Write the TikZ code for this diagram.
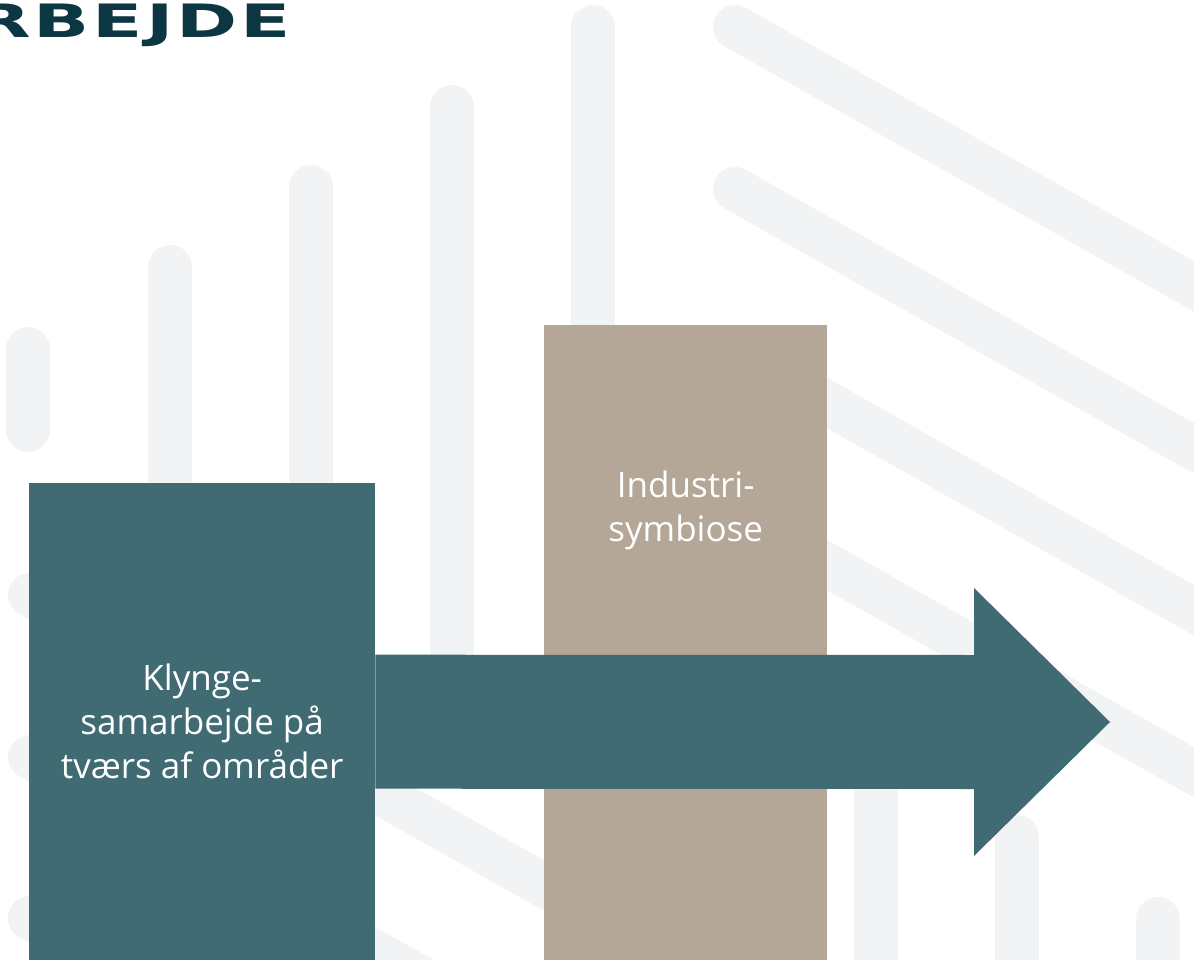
\documentclass[tikz,border=0pt]{standalone}
\usepackage{fontspec}
\setmainfont{Fira Sans}
\newfontfamily\bodyfont{Open Sans}
\newfontfamily\headfont{DejaVu Sans}[LetterSpace=4]
\usetikzlibrary{positioning}
\definecolor{petrol}{HTML}{406B72}
\definecolor{sand}{HTML}{B4A797}
\definecolor{mist}{HTML}{F2F3F5}
\definecolor{ink}{HTML}{0B3642}

\begin{document}
\begin{tikzpicture}[x=1pt,y=-1pt,
  stripe/.style={draw=mist,line width=44pt,line cap=round},
  block/.style={rectangle,inner sep=0pt,anchor=north west},
  blocktext/.style={align=center,text=white,inner sep=0pt,font=\bodyfont\fontsize{35}{44}\selectfont}]
   \useasboundingbox (0,0) rectangle (1194,960);
   \clip (0,0) rectangle (1194,960);
   \foreach \x/\a/\b in {28/349/430, 170/267/990, 311/187/990, 452/107/700, 593/27/990,
                         876/755/990, 1017/837/990, 1158/919/990}
      \draw[stripe] (\x,\a) -- (\x,\b);
   \foreach \y in {27,189,351,513}
      \draw[stripe] (735,\y) -- ++(600,339);
   \foreach \y in {595,757,918}
      \draw[stripe] (30,\y) -- ++(1300,735);
   \node[anchor=base east,inner sep=0pt,text=ink,xscale=1.6,font=\headfont\fontsize{46}{46}\selectfont\bfseries] (title) at (291,38) {RBEJDE};
   \node[block,fill=sand,minimum width=283pt,minimum height=635pt] (industri) at (544,325) {};
   \node[blocktext] (industritext) at ([yshift=-185pt]industri.north) {Industri-\\symbiose};
   \node[block,fill=petrol,minimum width=346pt,minimum height=477pt,blocktext] (klynge) at (29,483) {Klynge-\\samarbejde på\\tværs af områder};
   \coordinate (tip) at (1110,722);
   \fill[petrol] ([yshift=67pt]klynge.east) -- ([xshift=-136pt,yshift=67pt]tip)
      -- ([xshift=-136pt,yshift=134pt]tip) -- (tip) -- ([xshift=-136pt,yshift=-134pt]tip)
      -- ([xshift=-136pt,yshift=-67pt]tip) -- ([yshift=-67pt]klynge.east) -- cycle;
\end{tikzpicture}
\end{document}
